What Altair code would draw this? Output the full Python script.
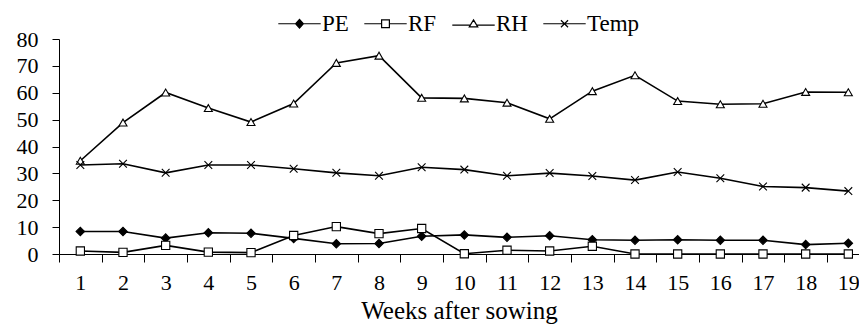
import altair as alt
import pandas as pd

weeks = list(range(1, 20))
pe = [8.4, 8.4, 5.9, 7.9, 7.7, 5.8, 3.8, 3.9, 6.6, 7.1, 6.2, 6.8, 5.3, 5.1, 5.3, 5.1, 5.1, 3.5, 4.0]
rf = [1.1, 0.6, 3.2, 0.7, 0.5, 6.9, 10.2, 7.6, 9.5, 0.1, 1.4, 1.1, 2.9, 0.0, 0.0, 0.0, 0.0, 0.0, 0.0]
rh = [34.7, 48.9, 60.1, 54.3, 49.1, 56.0, 71.1, 73.8, 58.1, 57.9, 56.3, 50.3, 60.6, 66.5, 56.9, 55.7, 55.9, 60.3, 60.2]
temp = [33.1, 33.6, 30.2, 33.1, 33.1, 31.7, 30.2, 29.1, 32.3, 31.4, 29.1, 30.1, 29.0, 27.5, 30.5, 28.2, 25.1, 24.7, 23.4]
series = ["PE", "RF", "RH", "Temp"]
y_ticks = [0, 10, 20, 30, 40, 50, 60, 70, 80]

rows = []
for name, vals in zip(series, [pe, rf, rh, temp]):
    for w, v in zip(weeks, vals):
        rows.append({"week": w, "value": v, "series": name})
df = pd.DataFrame(rows)

FONT = "Liberation Serif"
x_values = [i / 2 for i in range(1, 39)]

x_enc = alt.X(
    "week:Q",
    scale=alt.Scale(domain=[0.5, 19.25], nice=False, zero=False),
    axis=alt.Axis(
        values=x_values,
        labelExpr="datum.value % 1 == 0 ? format(datum.value, 'd') : ''",
        tickOpacity={"condition": {"test": "datum.value % 1 != 0", "value": 1}, "value": 0},
        tickSize=8,
        grid=False,
        labelOverlap=False,
        labelFlush=False,
        labelPadding=10,
        title="Weeks after sowing",
        titleFontSize=25,
        titlePadding=5,
    ),
)
y_enc = alt.Y(
    "value:Q",
    scale=alt.Scale(domain=[0, 80], nice=False),
    axis=alt.Axis(values=y_ticks, tickSize=7, grid=False, labelPadding=14, title=None),
)

lines = alt.Chart(df).mark_line(color="black", strokeWidth=1.6).encode(
    x=x_enc, y=y_enc, detail="series:N"
)

X_PATH = "M-1,-1L1,1M-1,1L1,-1"
points = alt.Chart(df).mark_point(stroke="black", strokeWidth=1.1, opacity=1, fillOpacity=1).encode(
    x=x_enc,
    y=y_enc,
    shape=alt.Shape("series:N", scale=alt.Scale(domain=series, range=["diamond", "square", "triangle-up", X_PATH]), legend=None),
    fill=alt.Fill("series:N", scale=alt.Scale(domain=series, range=["black", "white", "white", "white"]), legend=None),
    size=alt.Size("series:N", scale=alt.Scale(domain=series, range=[72, 60, 85, 64]), legend=None),
)

legend_paths = [
    "M-3,0H3M0,-0.6L0.55,0L0,0.6L-0.55,0Z",
    "M-3,0H-0.55M0.55,0H3M-0.55,-0.55H0.55V0.55H-0.55Z",
    "M-3,0.2H-0.45M0.45,0.2H3M0,-0.55L0.6,0.45L-0.6,0.45Z",
    "M-3,0H3M-0.5,-0.5L0.5,0.5M-0.5,0.5L0.5,-0.5",
]
legend_df = pd.DataFrame({"series": series})
leg = alt.Legend(
    orient="none", legendX=229, legendY=-27, direction="horizontal", title=None,
    labelFont=FONT, labelFontSize=23, labelColor="black", labelOffset=11,
    columnPadding=12, symbolSize=200, symbolStrokeColor="black", symbolStrokeWidth=1.2,
    symbolOpacity=1, padding=0,
)
legend_layer = alt.Chart(legend_df).mark_point(strokeWidth=1.2, opacity=1, fillOpacity=1).encode(
    shape=alt.Shape("series:N", scale=alt.Scale(domain=series, range=legend_paths), legend=leg),
    fill=alt.Fill("series:N", scale=alt.Scale(domain=series, range=["black", "white", "white", "white"]), legend=leg),
    stroke=alt.Stroke("series:N", scale=alt.Scale(domain=series, range=["black", "black", "black", "black"]), legend=leg),
).transform_filter("false")

chart = alt.layer(lines, points, legend_layer).resolve_scale(
    shape="independent", fill="independent", stroke="independent"
).properties(
    width=800, height=215, autosize="none", background="white",
    padding={"left": 51, "top": 31, "right": 0, "bottom": 73},
).configure_view(stroke=None).configure_axis(
    labelFont=FONT, titleFont=FONT, labelFontSize=22, labelColor="black", titleColor="black",
    titleFontWeight="normal", domainColor="black", tickColor="black", domainWidth=1, tickWidth=1,
)

chart.save("out.html", embed_options={"renderer": "svg", "actions": False})
